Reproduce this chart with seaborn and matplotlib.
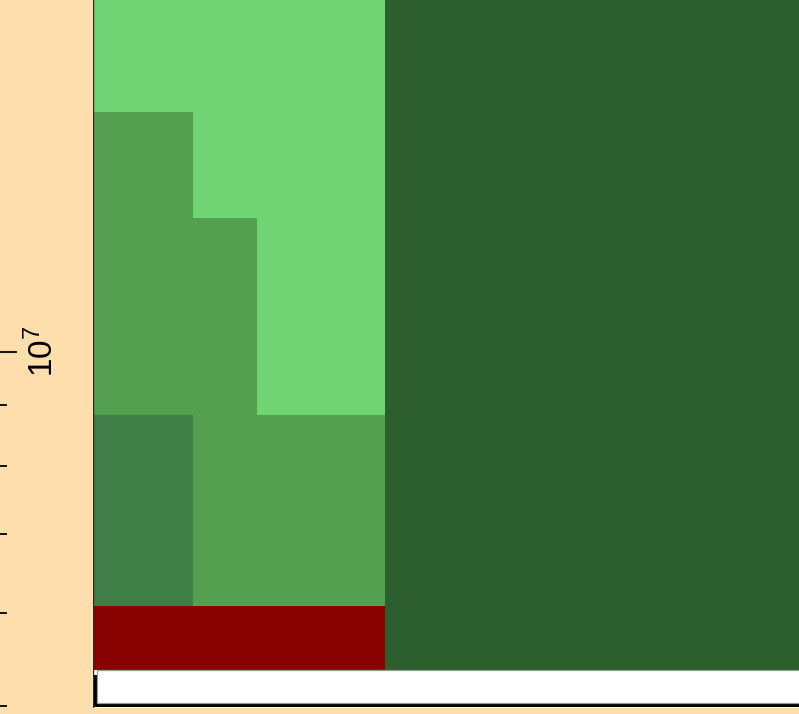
import numpy as np
import pandas as pd
import matplotlib
matplotlib.use("Agg")
import matplotlib.pyplot as plt
import seaborn as sns
from matplotlib import patheffects as pe
from matplotlib.ticker import NullFormatter

# ---- data ----
bin_edges = [0, 10, 16.4, 29.2, 72]
layer_names = ["base", "red", "dark", "medium", "light", "deep"]
base_vals = [5.36e6, 5.36e6, 5.36e6, 5.36e6]
red_vals = [0.72e6, 0.72e6, 0.72e6, 0.0]
dark_vals = [2.75e6, 0.0, 0.0, 0.0]
medium_vals = [7.14e6, 6.90e6, 2.75e6, 0.0]
light_vals = [4.6e6, 7.6e6, 11.7e6, 0.0]
deep_vals = [0.0, 0.0, 0.0, 1.6e7]
layer_colors = ["#FFFFFF", "#880000", "#3F7F46", "#52A050", "#70D472", "#2D5E2E"]

band_left = 0.4
band_floor = 5.03e6
y_limits = (4.98e6, 2.2e7)
x_limits = (0, 72)

# ---- style ----
sns.set_theme(style="white")
plt.rcParams["font.family"] = ["Liberation Sans", "DejaVu Sans"]

W, H, DPI = 799, 714, 100
fig = plt.figure(figsize=(W / DPI, H / DPI), dpi=DPI, facecolor="#FFDEAD")
px_per_decade = 1177
left_px, right_px, bottom_px = 93, 813, 708
h_px = px_per_decade * np.log10(y_limits[1] / y_limits[0])
ax = fig.add_axes([left_px / W, (H - bottom_px) / H, (right_px - left_px) / W, h_px / H])
ax.set_facecolor("white")

centers = [(a + b) / 2 for a, b in zip(bin_edges[:-1], bin_edges[1:])]
rows = []
for name, vals in zip(layer_names, [base_vals, red_vals, dark_vals, medium_vals, light_vals, deep_vals]):
    for c, v in zip(centers, vals):
        rows.append({"x": c, "value": v, "layer": name})
df = pd.DataFrame(rows)
palette = dict(zip(layer_names, layer_colors))

sns.histplot(data=df, x="x", weights="value", hue="layer",
             hue_order=layer_names[::-1], bins=bin_edges, multiple="stack",
             palette=palette, alpha=1, edgecolor="none", linewidth=0,
             legend=False, ax=ax)

ax.set_yscale("log")
ax.set_ylim(*y_limits)
ax.set_xlim(*x_limits)

# white base band with a dark drop shadow
ax.bar(band_left, base_vals[0] - band_floor, width=x_limits[1] - band_left,
       bottom=band_floor, align="edge", color="white",
       edgecolor="#9a9a9a", linewidth=0.9, zorder=3,
       path_effects=[pe.SimplePatchShadow(offset=(-3.0, -3.0), shadow_rgbFace="black", alpha=1),
                     pe.Normal()])

ax.axvline(x_limits[0], color="#2a2a2a", lw=1.0, zorder=4)

for s in ["top", "right", "bottom"]:
    ax.spines[s].set_visible(False)
ax.spines["left"].set_position(("outward", left_px * 72 / DPI))
ax.spines["left"].set_visible(False)

ax.set_xlabel("")
ax.set_ylabel("")
ax.grid(False)
ax.tick_params(axis="x", which="both", bottom=False, labelbottom=False)
ax.tick_params(axis="y", which="major", left=True, direction="in", length=17 * 0.72,
               width=1.3, color="black", pad=-43.5, labelsize=24, labelrotation=90,
               labelcolor="black")
ax.tick_params(axis="y", which="minor", left=True, direction="in", length=7 * 0.72,
               width=1.3, color="black")
ax.yaxis.set_minor_formatter(NullFormatter())
for t in ax.yaxis.get_major_ticks():
    t.label1.set_va("center")

fig.savefig("out.png", dpi=DPI, facecolor=fig.get_facecolor())
